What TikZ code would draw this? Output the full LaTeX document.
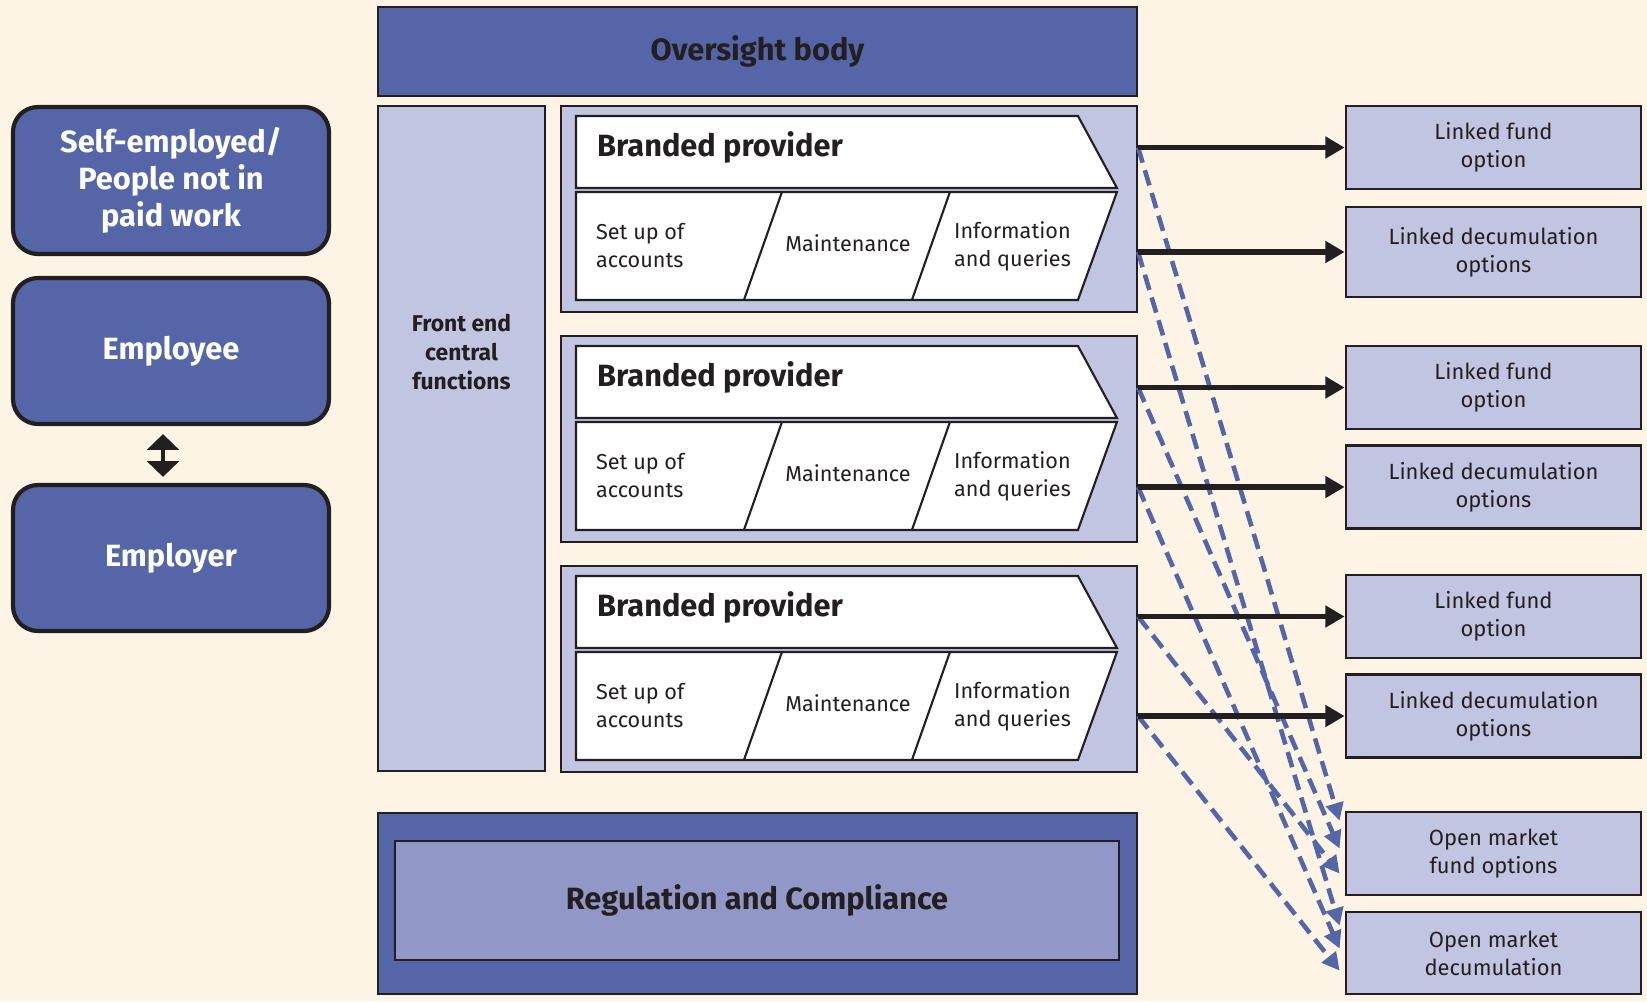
\documentclass[tikz,border=0pt]{standalone}
\usepackage{fontspec}
\setmainfont{Fira Sans}
\usetikzlibrary{arrows.meta}
\definecolor{cream}{HTML}{FEF4E6}
\definecolor{navy}{HTML}{5466A7}
\definecolor{lilac}{HTML}{C1C5E1}
\definecolor{midlilac}{HTML}{9198C7}
\definecolor{ink}{HTML}{231F20}

\begin{document}
\begin{tikzpicture}
    \tikzstyle{edge}  = [line width=3pt,-{Triangle[length=11pt,width=12pt]},draw=ink]
    \tikzstyle{dedge} = [line width=2.6pt,dash pattern=on 9pt off 4.5pt,-{Triangle[length=10pt,width=10pt]},draw=navy]
    \tikzstyle{person}=[
      rectangle,
      rounded corners=0.5cm,
      draw=ink,
      line width=2.4pt,
      fill=navy,
      text=white,
      align=center,
      font=\fontsize{17.5}{21}\selectfont\bfseries,
      minimum width=6.32cm,
      minimum height=2.92cm,
    ]
    \tikzstyle{band}=[
      rectangle,
      draw=ink,
      line width=1.2pt,
      fill=navy,
      text=ink,
      font=\fontsize{17.5}{19}\selectfont\bfseries,
      minimum width=15.18cm,
    ]
    \tikzstyle{panel}=[
      rectangle,
      draw=ink,
      line width=1.2pt,
      fill=lilac,
      minimum width=11.52cm,
      minimum height=4.12cm,
    ]
    \tikzstyle{option}=[
      rectangle,
      draw=ink,
      line width=1.6pt,
      fill=lilac,
      text=ink,
      align=center,
      font=\fontsize{12.5}{16}\selectfont,
      minimum width=5.9cm,
      minimum height=1.66cm,
    ]
    \tikzstyle{cell}=[draw=ink, line width=1.2pt, fill=white]
    \tikzstyle{celltext}=[text=ink, align=left, font=\fontsize{12.3}{16}\selectfont]
    \newcommand{\brandedstrip}[1]{
      \begin{scope}[shift={(#1.north west)}]
        \draw[cell] (0.32,-0.22) -- (10.36,-0.22) -- (11.14,-1.66) -- (0.32,-1.66) -- cycle;
        \draw[cell] (0.32,-1.74) -- (11.14,-1.74) -- (10.36,-3.90) -- (0.32,-3.90) -- cycle;
        \draw[cell] (4.44,-1.74) -- (3.68,-3.90);
        \draw[cell] (7.80,-1.74) -- (7.04,-3.90);
        \node[celltext, anchor=west, font=\fontsize{17.5}{19}\selectfont\bfseries] (#1title) at (0.62,-0.84) {Branded provider};
        \node[celltext, anchor=west] (#1setup) at (0.60,-2.82) {Set up of\\accounts};
        \node[celltext] (#1maint) at (5.76,-2.76) {Maintenance};
        \node[celltext, anchor=west] (#1info) at (7.76,-2.82) {Information\\and queries};
      \end{scope}
    }

    \path[use as bounding box, fill=cream] (0,0) rectangle (32.94,-20.02);
    \coordinate (origin) at (0,0);

    % people
    {
      \node[person, minimum height=2.94cm] (selfemp) at ([xshift=3.42cm, yshift=-3.61cm] origin) {Self-employed/\\People not in\\paid work};
      \node[person] (employee) at ([xshift=3.42cm, yshift=-7.02cm] origin) {Employee};
      \node[person] (employer) at ([xshift=3.42cm, yshift=-11.16cm] origin) {Employer};

      \draw[line width=2.4pt, draw=ink, {Triangle[length=9pt,width=18pt]}-{Triangle[length=9pt,width=18pt]}]
        ([xshift=-0.16cm, yshift=-0.16cm] employee.south) -- ([xshift=-0.16cm, yshift=0.12cm] employer.north);
    }

    % scheme
    {
      \node[band, minimum height=1.78cm] (oversight) at ([xshift=15.15cm, yshift=-1.03cm] origin) {Oversight body};
      \node[panel, fill=lilac, minimum width=3.34cm, minimum height=13.3cm] (frontend) at ([xshift=9.23cm, yshift=-8.77cm] origin) {};
      \node[text=ink, align=center, font=\fontsize{13}{16.5}\selectfont\bfseries] (frontendtext) at ([yshift=-4.94cm] frontend.north) {Front end\\central\\functions};

      \node[panel] (panel1) at ([xshift=16.98cm, yshift=-4.18cm] origin) {};
      \node[panel] (panel2) at ([xshift=16.98cm, yshift=-8.78cm] origin) {};
      \node[panel] (panel3) at ([xshift=16.98cm, yshift=-13.38cm] origin) {};
      \brandedstrip{panel1}
      \brandedstrip{panel2}
      \brandedstrip{panel3}

      \node[band, minimum height=3.62cm] (regouter) at ([xshift=15.15cm, yshift=-18.07cm] origin) {};
      \node[band, fill=midlilac, minimum width=14.48cm, minimum height=2.38cm] (reginner) at ([xshift=15.14cm, yshift=-18.01cm] origin) {Regulation and Compliance};
    }

    % options
    {
      \node[option] (fund1) at ([xshift=29.87cm, yshift=-2.95cm] origin) {Linked fund\\option};
      \node[option, minimum height=1.8cm] (decum1) at ([xshift=29.87cm, yshift=-5.04cm] origin) {Linked decumulation\\options};
      \node[option] (fund2) at ([xshift=29.87cm, yshift=-7.75cm] origin) {Linked fund\\option};
      \node[option] (decum2) at ([xshift=29.87cm, yshift=-9.74cm] origin) {Linked decumulation\\options};
      \node[option] (fund3) at ([xshift=29.87cm, yshift=-12.33cm] origin) {Linked fund\\option};
      \node[option] (decum3) at ([xshift=29.87cm, yshift=-14.32cm] origin) {Linked decumulation\\options};
      \node[option] (omfund) at ([xshift=29.87cm, yshift=-17.07cm] origin) {Open market\\fund options};
      \node[option, minimum height=1.64cm] (omdecum) at ([xshift=29.87cm, yshift=-19.06cm] origin) {Open market\\decumulation};

      \coordinate (p1f) at (panel1.east |- fund1.west);
      \coordinate (p1d) at (panel1.east |- decum1.west);
      \coordinate (p2f) at (panel2.east |- fund2.west);
      \coordinate (p2d) at (panel2.east |- decum2.west);
      \coordinate (p3f) at (panel3.east |- fund3.west);
      \coordinate (p3d) at (panel3.east |- decum3.west);

      \coordinate (omf1) at ([xshift=-0.1cm, yshift=-0.2cm] omfund.north west);
      \coordinate (omf2) at ([xshift=-0.1cm, yshift=-0.76cm] omfund.north west);
      \coordinate (omf3) at ([xshift=-0.1cm, yshift=-1.26cm] omfund.north west);
      \coordinate (omd1) at ([xshift=-0.1cm, yshift=-0.3cm] omdecum.north west);
      \coordinate (omd2) at ([xshift=-0.1cm, yshift=-0.76cm] omdecum.north west);
      \coordinate (omd3) at ([xshift=-0.1cm, yshift=-1.2cm] omdecum.north west);

      \draw[dedge] (p1f)--(omf1);
      \draw[dedge] (p2f)--(omf2);
      \draw[dedge] (p3f)--(omf3);
      \draw[dedge] (p1d)--(omd1);
      \draw[dedge] (p2d)--(omd2);
      \draw[dedge] (p3d)--(omd3);

      \draw[edge] (p1f)--(fund1.west);
      \draw[edge] (p1d)--(decum1.west);
      \draw[edge] (p2f)--(fund2.west);
      \draw[edge] (p2d)--(decum2.west);
      \draw[edge] (p3f)--(fund3.west);
      \draw[edge] (p3d)--(decum3.west);
    }
\end{tikzpicture}
\end{document}
